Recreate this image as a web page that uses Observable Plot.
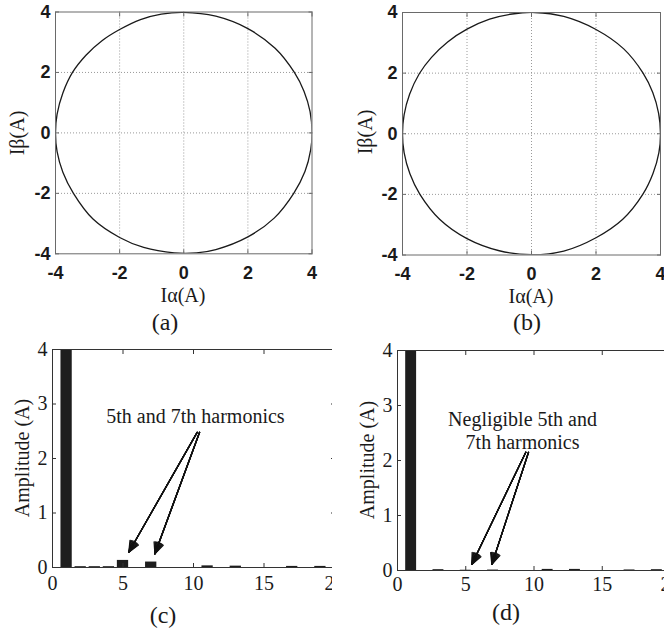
<!DOCTYPE html>
<html><head><meta charset="utf-8">
<script src="https://cdn.jsdelivr.net/npm/d3@7"></script>
<script src="https://cdn.jsdelivr.net/npm/@observablehq/plot@0.6"></script>
<style>
html,body{margin:0;padding:0;background:#fff;}
#root{position:relative;width:664px;height:634px;overflow:hidden;background:#fff;}
.panel{position:absolute;overflow:hidden;}
.panel svg{max-width:none !important;}
.lbl{position:absolute;font-family:"Liberation Serif","Times New Roman",serif;color:#1a1a1a;white-space:nowrap;transform:translate(-50%,-50%);line-height:1;}
.rot{transform:translate(-50%,-50%) rotate(-90deg);}
</style></head><body><div id="root"></div>
<script>
// ---- (a) Iα–Iβ trajectory (counter-clockwise)
const ialphaA = [4.0, 3.94, 3.75, 3.45, 2.85, 2.0, 1.0, 0.0, -0.7, -1.35, -2.0, -2.55, -3.05, -3.47, -3.77, -3.95, -4.0, -3.95, -3.77, -3.44, -2.83, -2.0, -1.25, -0.3, 0.4, 1.0, 2.0, 2.82, 3.43, 3.78, 3.96];
const ibetaA  = [0.0, 0.7, 1.38, 2.0, 2.8, 3.45, 3.86, 3.99, 3.93, 3.75, 3.42, 3.05, 2.57, 2.0, 1.32, 0.62, 0.0, -0.62, -1.3, -2.0, -2.85, -3.46, -3.79, -3.97, -3.97, -3.86, -3.44, -2.82, -2.0, -1.28, -0.55];
// ---- (b) Iα–Iβ trajectory
const ialphaB = [4.0, 3.94, 3.76, 3.46, 2.86, 2.0, 1.0, 0.1, -0.6, -1.3, -2.0, -2.6, -3.1, -3.48, -3.78, -3.95, -4.0, -3.95, -3.77, -3.46, -2.85, -2.0, -1.0, 0.0, 1.0, 2.0, 2.83, 3.45, 3.77, 3.95];
const ibetaB  = [0.0, 0.68, 1.36, 2.0, 2.8, 3.44, 3.87, 4.0, 3.95, 3.78, 3.45, 3.03, 2.52, 1.98, 1.3, 0.62, 0.0, -0.62, -1.32, -2.0, -2.82, -3.46, -3.86, -3.99, -3.87, -3.43, -2.82, -2.0, -1.3, -0.62];
const circleTicks = [-4, -2, 0, 2, 4];
const circleGrid = [-2, 0, 2];

// ---- (c), (d) harmonic spectra
const harmonicOrders = [1, 2, 3, 4, 5, 6, 7, 8, 9, 10, 11, 12, 13, 14, 15, 16, 17, 18, 19, 20];
const ampC = [4.0, 0.015, 0.015, 0.015, 0.13, 0, 0.10, 0, 0, 0, 0.03, 0, 0.025, 0, 0, 0, 0.02, 0, 0.02, 0];
const ampD = [4.0, 0, 0.015, 0, 0.005, 0, 0.008, 0, 0, 0, 0.02, 0, 0.02, 0, 0, 0, 0.01, 0, 0.015, 0];
const specXTicks = [0, 5, 10, 15, 20];
const specYTicks = [0, 1, 2, 3, 4];

// ---- annotations
const noteC = [{x: 10.14, y: 2.76, text: "5th and 7th harmonics"}];
const arrowsCThin = [{x1: 10.26, y1: 2.48, x2: 5.41, y2: 0.28}];
const arrowsCThick = [{x1: 10.43, y1: 2.48, x2: 7.26, y2: 0.25}];
const noteD = [{x: 9.16, y: 2.55, text: "Negligible 5th and\n7th harmonics"}];
const arrowsD = [{x1: 9.4, y1: 2.15, x2: 5.44, y2: 0.11}, {x1: 9.6, y1: 2.15, x2: 6.91, y2: 0.11}];

const SERIF = '"Liberation Serif","Times New Roman",serif';
const SANS = '"Liberation Sans",Arial,sans-serif';

function arrowFan(data, sw) {
  const marks = [Plot.arrow(data, {x1: "x1", y1: "y1", x2: "x2", y2: "y2", stroke: "#111", strokeWidth: sw, headLength: 0})];
  for (const a of [8, 16, 24, 32, 40, 48]) {
    marks.push(Plot.arrow(data, {x1: "x1", y1: "y1", x2: "x2", y2: "y2", stroke: "#111", strokeWidth: 1.2, headAngle: a, headLength: 12 * 1.5 / 1.2}));
  }
  return marks;
}

function circlePanel(xs, ys, m) {
  const pts = xs.map((x, i) => ({x, y: ys[i]}));
  const ax = {fontSize: 18, fontWeight: "bold", fontFamily: SANS, stroke: "#6a6a6a", fill: "#1a1a1a", label: null};
  return Plot.plot({
    width: 332, height: 300,
    marginLeft: m.l, marginRight: m.r, marginTop: m.t, marginBottom: m.b,
    x: {domain: [-4, 4]}, y: {domain: [-4, 4]},
    style: {fontFamily: SANS, fontSize: "18px", color: "#1a1a1a", background: "transparent", overflow: "visible", maxWidth: "none"},
    marks: [
      Plot.gridX(circleGrid, {stroke: "#9a9a9a", strokeOpacity: 1, strokeDasharray: "1,2"}),
      Plot.gridY(circleGrid, {stroke: "#9a9a9a", strokeOpacity: 1, strokeDasharray: "1,2"}),
      Plot.line(pts, {x: "x", y: "y", curve: "catmull-rom-closed", stroke: "#1a1a1a", strokeWidth: 1.3, clip: true}),
      Plot.frame({stroke: "#6a6a6a"}),
      Plot.axisX(circleTicks, {...ax, anchor: "bottom", tickSize: -4, tickPadding: 16, tickFormat: d => String(d)}),
      Plot.axisX(circleTicks, {...ax, anchor: "top", tickSize: -4, tickFormat: () => ""}),
      Plot.axisY(circleTicks, {...ax, anchor: "left", tickSize: -4, tickPadding: 9, tickFormat: d => String(d)}),
      Plot.axisY(circleTicks, {...ax, anchor: "right", tickSize: -4, tickFormat: () => ""})
    ]
  });
}

function specPanel(amps, m, extra) {
  const bars = harmonicOrders.map((h, i) => ({h, a: amps[i]})).filter(d => d.a > 0);
  const ax = {fontSize: 20, fontFamily: SERIF, stroke: "#333", fill: "#1a1a1a", label: null};
  return Plot.plot({
    width: 360, height: 270,
    marginLeft: m.l, marginRight: m.r, marginTop: m.t, marginBottom: m.b,
    x: {domain: [0, 20]}, y: {domain: [0, 4]},
    style: {fontFamily: SERIF, fontSize: "20px", color: "#1a1a1a", background: "transparent", overflow: "visible", maxWidth: "none"},
    marks: [
      Plot.rectY(bars, {x1: d => d.h - 0.4, x2: d => d.h + 0.4, y: "a", fill: "#1e1e1e", clip: true}),
      Plot.frame({stroke: "#333"}),
      Plot.axisX(specXTicks, {...ax, anchor: "bottom", tickSize: -4, tickPadding: m.xp, tickFormat: d => String(d)}),
      Plot.axisX(specXTicks, {...ax, anchor: "top", tickSize: -4, tickFormat: () => ""}),
      Plot.axisY(specYTicks, {...ax, anchor: "left", tickSize: -4, tickPadding: 9, tickFormat: d => String(d)}),
      Plot.axisY(specYTicks, {...ax, anchor: "right", tickSize: -4, tickFormat: () => ""}),
      ...extra
    ]
  });
}

const root = document.getElementById("root");
function addPanel(node, left, top, w, h) {
  const d = document.createElement("div");
  d.className = "panel";
  Object.assign(d.style, {left: left + "px", top: top + "px", width: w + "px", height: h + "px"});
  d.appendChild(node);
  root.appendChild(d);
}
function addLabel(text, x, y, size, rot) {
  const d = document.createElement("div");
  d.className = "lbl" + (rot ? " rot" : "");
  d.textContent = text;
  Object.assign(d.style, {left: x + "px", top: y + "px", fontSize: size + "px"});
  root.appendChild(d);
}

addPanel(circlePanel(ialphaA, ibetaA, {l: 55, r: 20.5, t: 11.5, b: 46.7}), 0, 0, 332, 300);
addPanel(circlePanel(ialphaB, ibetaB, {l: 70, r: 4, t: 12, b: 45.5}), 332, 0, 332, 300);

const textC = Plot.text(noteC, {x: "x", y: "y", text: "text", fontSize: 20, fontFamily: SERIF, fill: "#1a1a1a"});
addPanel(specPanel(ampC, {l: 52, r: 26, t: 19, b: 33, xp: 12.5}, [textC, ...arrowFan(arrowsCThin, 0.8), ...arrowFan(arrowsCThick, 1.5)]), 0, 330, 332, 270);
const textD = Plot.text(noteD, {x: "x", y: "y", text: "text", fontSize: 20, fontFamily: SERIF, lineHeight: 1.17, fill: "#1a1a1a"});
addPanel(specPanel(ampD, {l: 65, r: 22, t: 20, b: 30, xp: 10}, [textD, ...arrowFan(arrowsD, 0.8)]), 332, 330, 332, 270);

addLabel("Iα(A)", 183, 295, 20);
addLabel("Iβ(A)", 17, 133, 20, true);
addLabel("Iα(A)", 531, 296, 20);
addLabel("Iβ(A)", 365, 132, 20, true);
addLabel("Amplitude (A)", 22, 458, 20, true);
addLabel("Amplitude (A)", 367, 460, 20, true);
addLabel("(a)", 165, 322, 24);
addLabel("(b)", 527, 322, 24);
addLabel("(c)", 163, 615, 24);
addLabel("(d)", 506, 612, 24);
</script>
</body></html>
